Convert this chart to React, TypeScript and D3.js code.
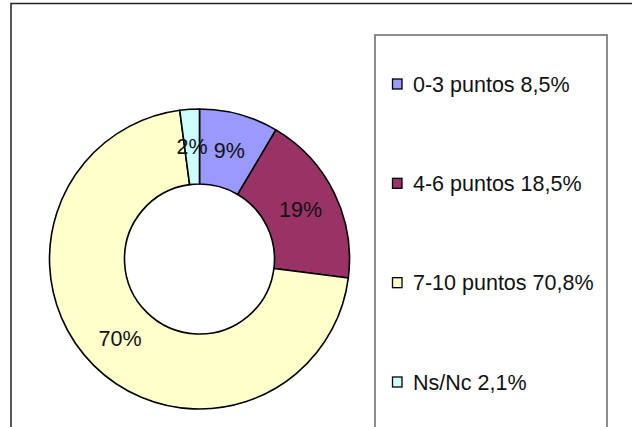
import React, { useRef, useEffect } from 'react';
import * as d3 from 'd3';

const categories = ['0-3 puntos', '4-6 puntos', '7-10 puntos', 'Ns/Nc'];
const values = [8.5, 18.5, 70.8, 2.1];
const sliceLabels = ['9%', '19%', '70%', '2%'];
const legendLabels = ['0-3 puntos 8,5%', '4-6 puntos 18,5%', '7-10 puntos 70,8%', 'Ns/Nc 2,1%'];
const colors = ['#9999FF', '#993366', '#FFFFCC', '#CCFFFF'];

const App = () => {
  const ref = useRef<HTMLDivElement>(null);

  useEffect(() => {
    document.body.style.margin = '0';
    const width = 632;
    const height = 427;
    const cx = 199.5;
    const cy = 259;
    const outerR = 150;
    const innerR = 75;

    const root = d3.select(ref.current);
    root.selectAll('*').remove();
    const svg = root.append('svg')
      .attr('width', width)
      .attr('height', height)
      .style('display', 'block')
      .style('font-family', '"Liberation Sans", Arial, sans-serif');

    svg.append('rect').attr('width', width).attr('height', height).attr('fill', '#fff');

    // outer chart frame (cut by the picture on right and bottom)
    svg.append('rect')
      .attr('x', 11).attr('y', 3.5)
      .attr('width', 700).attr('height', 500)
      .attr('fill', 'none')
      .attr('stroke', '#222')
      .attr('stroke-width', 1.5);

    const pie = d3.pie<number>().sort(null).value(d => d);
    const arcs = pie(values);
    const arc = d3.arc<d3.PieArcDatum<number>>().innerRadius(innerR).outerRadius(outerR);

    const g = svg.append('g').attr('transform', `translate(${cx},${cy})`);
    g.selectAll('path')
      .data(arcs)
      .join('path')
      .attr('d', arc)
      .attr('fill', (d, i) => colors[i])
      .attr('stroke', '#000')
      .attr('stroke-width', 1.6)
      .attr('stroke-linejoin', 'round');

    g.selectAll('text')
      .data(arcs)
      .join('text')
      .attr('transform', d => `translate(${arc.centroid(d)})`)
      .attr('text-anchor', 'middle')
      .attr('dy', '0.36em')
      .attr('font-size', 21.5)
      .attr('fill', '#111')
      .text((d, i) => sliceLabels[i]);

    // legend
    const legX = 375;
    const legY = 35;
    svg.append('rect')
      .attr('x', legX).attr('y', legY)
      .attr('width', 232).attr('height', 450)
      .attr('fill', '#fff')
      .attr('stroke', '#808080')
      .attr('stroke-width', 1.8);

    const yLeg = d3.scalePoint<string>().domain(categories).range([84, 382]);
    const items = svg.append('g').selectAll('g')
      .data(categories)
      .join('g')
      .attr('transform', d => `translate(${legX},${yLeg(d)})`);

    items.append('rect')
      .attr('x', 17.5).attr('y', -5)
      .attr('width', 9.5).attr('height', 10)
      .attr('fill', (d, i) => colors[i])
      .attr('stroke', '#000')
      .attr('stroke-width', 1.3);

    items.append('text')
      .attr('x', 38)
      .attr('dy', '0.36em')
      .attr('font-size', 21.5)
      .attr('fill', '#111')
      .text((d, i) => legendLabels[i]);
  }, []);

  return <div ref={ref} />;
};

export default App;
